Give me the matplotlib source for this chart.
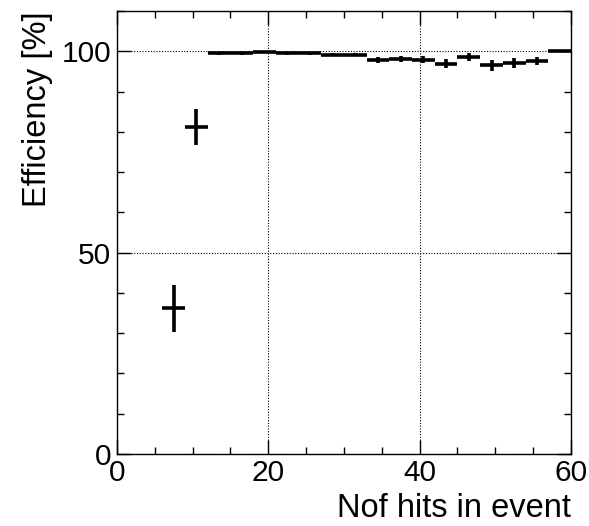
import numpy as np
import matplotlib
matplotlib.use("Agg")
import matplotlib.pyplot as plt
from matplotlib.ticker import MultipleLocator

plt.rcParams['font.family'] = ['Liberation Sans', 'DejaVu Sans']

# Bin edges in number of hits (width 3), efficiency per bin and its error
bin_lo = [6, 9, 12, 15, 18, 21, 24, 27, 30, 33, 36, 39, 42, 45, 48, 51, 54, 57]
efficiency = [36.2, 81.2, 99.5, 99.5, 99.9, 99.5, 99.5, 99.2, 99.2,
              97.8, 98.1, 97.9, 96.9, 98.6, 96.5, 97.1, 97.6, 100.0]
eff_err = [5.8, 4.5, 0.3, 0.3, 0.2, 0.3, 0.3, 0.3, 0.3,
           0.7, 0.8, 0.9, 1.1, 0.9, 1.3, 1.2, 1.0, 0.0]
bin_width = 3

x_ticks = [0, 20, 40, 60]
y_ticks = [0, 50, 100]

fig = plt.figure(figsize=(5.89, 5.26), dpi=100)
ax = fig.add_axes([0.1986, 0.137, 0.7708, 0.842])

centers = np.array(bin_lo) + bin_width / 2
ax.errorbar(centers, efficiency, xerr=bin_width / 2, yerr=eff_err,
            fmt='none', ecolor='black', elinewidth=2.6, capsize=0)

ax.set_xlim(0, 60)
ax.set_ylim(0, 110)
ax.set_xticks(x_ticks)
ax.set_yticks(y_ticks)
ax.xaxis.set_minor_locator(MultipleLocator(5))
ax.yaxis.set_minor_locator(MultipleLocator(10))
ax.tick_params(which='both', direction='in', top=True, right=True,
               labelsize=21.5, width=1, colors='black')
ax.tick_params(which='major', length=10)
ax.tick_params(axis='x', which='major', pad=4)
ax.tick_params(axis='y', which='major', pad=4)
ax.tick_params(which='minor', length=5)
for s in ax.spines.values():
    s.set_linewidth(1.0)

ax.grid(which='major', linestyle=(0, (1, 1.5)), color='black', linewidth=0.8)

ax.set_xlabel('Nof hits in event', fontsize=23.5, loc='right', labelpad=4)
ax.set_ylabel('Efficiency [%]', fontsize=23.5, loc='top', labelpad=6)

fig.savefig('out.png', dpi=100)
